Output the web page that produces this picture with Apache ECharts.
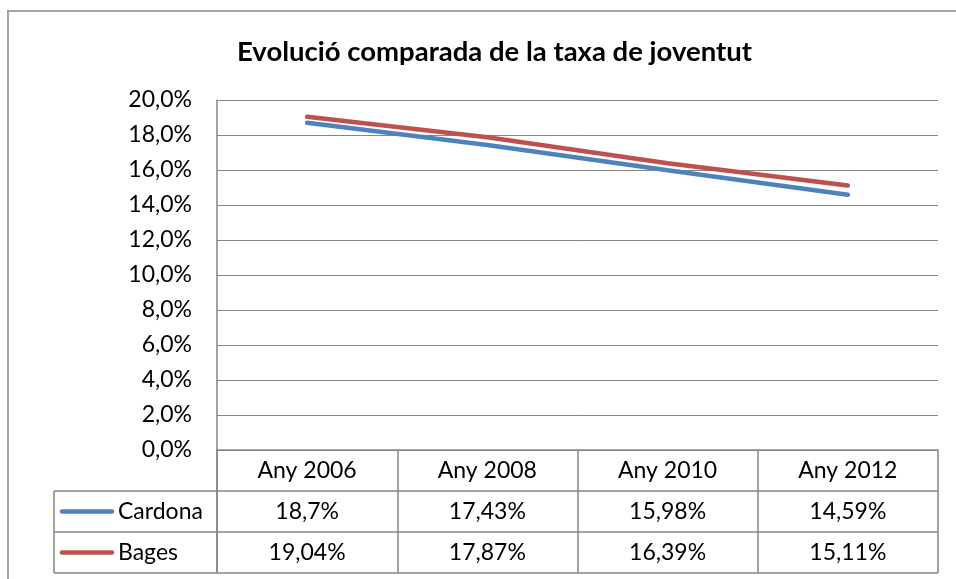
<!DOCTYPE html>
<html>
<head>
<meta charset="utf-8">
<script src="https://cdn.jsdelivr.net/npm/echarts@6/dist/echarts.min.js"></script>
<style>
  html, body { margin: 0; padding: 0; background: #fff; }
  #chart { width: 956px; height: 579px; }
</style>
</head>
<body>
<div id="chart"></div>
<script>
const TITLE = "Evolució comparada de la taxa de joventut";
const YEARS = ["Any 2006", "Any 2008", "Any 2010", "Any 2012"];
const CARDONA = [18.7, 17.43, 15.98, 14.59];
const BAGES = [19.04, 17.87, 16.39, 15.11];
const SERIES_NAMES = ["Cardona", "Bages"];
const COLORS = ["#4F81BD", "#C0504D"];

const FONT = "Lato";
const FS = 23;
const GRID_COLOR = "#868686";

function pct(v, digits) {
    const s = digits == null ? String(v) : v.toFixed(digits);
    return s.replace('.', ',') + '%';
}

const chartDom = document.getElementById('chart');
const chart = echarts.init(chartDom, null, { renderer: 'canvas' });

const grid = { left: 217, right: 18, top: 100, bottom: 129 };
const rowH = 41;    // table row height
const headH = 41;   // header row height

chart.setOption({
    animation: false,
    backgroundColor: '#fff',
    title: {
        text: TITLE,
        left: 232,
        top: 33,
        textStyle: { fontFamily: FONT, fontSize: 27.5, fontWeight: 'bold', color: '#000' }
    },
    grid: grid,
    xAxis: {
        type: 'category',
        data: YEARS,
        boundaryGap: true,
        axisLine: { lineStyle: { color: GRID_COLOR, width: 1.5 } },
        axisTick: { show: true, length: headH + 2 * rowH, interval: 0, lineStyle: { color: GRID_COLOR, width: 1.5 } },
        axisLabel: { fontFamily: FONT, fontSize: FS, color: '#000', margin: 9 }
    },
    yAxis: {
        type: 'value',
        min: 0,
        max: 20,
        interval: 2,
        axisLine: { show: true, lineStyle: { color: GRID_COLOR, width: 1.5 } },
        axisTick: { show: false },
        splitLine: { lineStyle: { color: GRID_COLOR, width: 1 } },
        axisLabel: {
            fontFamily: FONT, fontSize: FS, color: '#000', margin: 25,
            formatter: v => pct(v, 1)
        }
    },
    series: [
        { name: SERIES_NAMES[0], type: 'line', data: CARDONA, symbol: 'none',
          lineStyle: { color: COLORS[0], width: 4.5, cap: 'round' } },
        { name: SERIES_NAMES[1], type: 'line', data: BAGES, symbol: 'none',
          lineStyle: { color: COLORS[1], width: 4.5, cap: 'round' } }
    ]
});

// data table under the x axis, positioned from the grid
const [x0, yAxisBottom] = chart.convertToPixel({ gridIndex: 0 }, [0, 0]);
const left = grid.left;
const right = chartDom.clientWidth - grid.right;
const tableLeft = 54;
const row1Top = yAxisBottom + headH;
const lineStyle = { stroke: GRID_COLOR, lineWidth: 1.5 };
const elements = [];

// outer frame of the chart object
elements.push({ type: 'line', shape: { x1: 7, y1: 11, x2: 956, y2: 11 }, style: { stroke: '#888', lineWidth: 1.5 } });
elements.push({ type: 'line', shape: { x1: 8, y1: 11, x2: 8, y2: 579 }, style: { stroke: '#888', lineWidth: 1.5 } });

for (let r = 0; r <= 2; r++) {
    const y = row1Top + r * rowH;
    elements.push({ type: 'line', shape: { x1: tableLeft, y1: y, x2: right, y2: y }, style: lineStyle });
}
elements.push({ type: 'line', shape: { x1: tableLeft, y1: row1Top, x2: tableLeft, y2: row1Top + 2 * rowH }, style: lineStyle });
elements.push({ type: 'line', shape: { x1: left, y1: yAxisBottom, x2: left, y2: row1Top + 2 * rowH }, style: lineStyle });

[CARDONA, BAGES].forEach((vals, si) => {
    const cy = row1Top + si * rowH + rowH / 2;
    elements.push({ type: 'line', shape: { x1: 62, y1: cy, x2: 112, y2: cy },
        style: { stroke: COLORS[si], lineWidth: 4.5, lineCap: 'round' } });
    elements.push({ type: 'text', x: 118, y: cy,
        style: { text: SERIES_NAMES[si], font: FS + 'px ' + FONT, fill: '#000', verticalAlign: 'middle' } });
    vals.forEach((v, i) => {
        const cx = chart.convertToPixel({ xAxisIndex: 0 }, YEARS[i]);
        elements.push({ type: 'text', x: cx, y: cy,
            style: { text: pct(v), font: FS + 'px ' + FONT, fill: '#000', align: 'center', verticalAlign: 'middle' } });
    });
});

chart.setOption({ graphic: { elements: elements } });
</script>
</body>
</html>
